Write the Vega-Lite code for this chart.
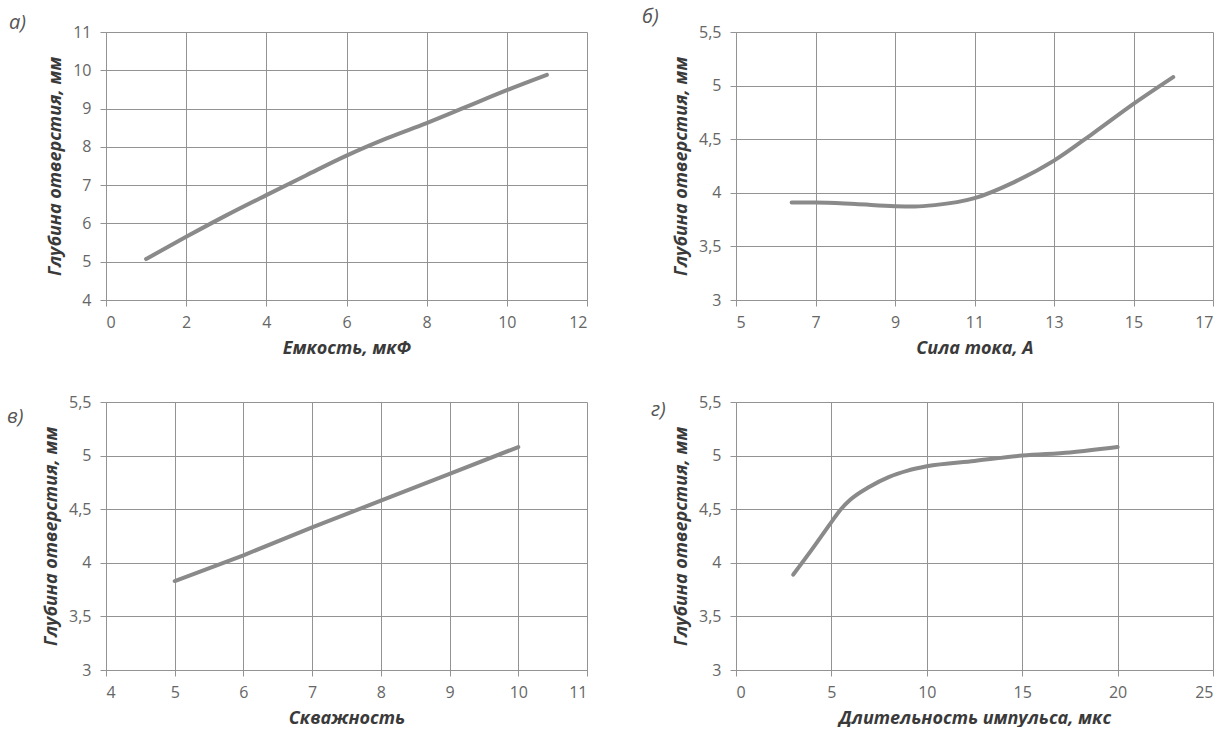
{
  "$schema": "https://vega.github.io/schema/vega-lite/v6.json",
  "background": "white",
  "padding": {"left": 7, "top": 7, "right": 5, "bottom": 0},
  "config": {
    "view": {"stroke": null},
    "font": "Open Sans",
    "axis": {
      "gridColor": "#939393", "gridOpacity": 1, "gridWidth": 1,
      "domainColor": "#939393", "tickColor": "#939393", "tickSize": 6,
      "labelFont": "Open Sans", "labelFontSize": 16, "labelColor": "#666666",
      "titleFont": "Open Sans", "titleFontSize": 18, "titleFontStyle": "italic", "titleFontWeight": "bold", "titleColor": "#3a3a3a"
    },
    "axisX": {"labelPadding": 8, "titlePadding": 9},
    "axisY": {"labelPadding": 9, "titlePadding": 8},
    "title": {"anchor": "start", "frame": "group", "fontSize": 20, "fontStyle": "italic", "fontWeight": "normal", "color": "#555555", "font": "Open Sans"}
  },
  "datasets": {
    "a": [{"x":1,"y":5.07},{"x":2,"y":5.65},{"x":3,"y":6.21},{"x":4,"y":6.74},{"x":5,"y":7.26},{"x":6,"y":7.77},{"x":7,"y":8.22},{"x":8,"y":8.62},{"x":9,"y":9.05},{"x":10,"y":9.48},{"x":11,"y":9.88}],
    "b": [{"x":6.4,"y":3.91},{"x":7,"y":3.91},{"x":8,"y":3.895},{"x":9,"y":3.875},{"x":9.5,"y":3.872},{"x":10,"y":3.885},{"x":11,"y":3.95},{"x":12,"y":4.1},{"x":13,"y":4.3},{"x":14,"y":4.56},{"x":15,"y":4.83},{"x":16,"y":5.08}],
    "c": [{"x":5,"y":3.83},{"x":6,"y":4.07},{"x":7,"y":4.33},{"x":8,"y":4.58},{"x":9,"y":4.83},{"x":10,"y":5.08}],
    "d": [{"x":3,"y":3.89},{"x":4,"y":4.13},{"x":5,"y":4.38},{"x":5.5,"y":4.5},{"x":6,"y":4.59},{"x":7,"y":4.71},{"x":8,"y":4.8},{"x":9,"y":4.86},{"x":10,"y":4.9},{"x":12.5,"y":4.95},{"x":15,"y":5.0},{"x":17.5,"y":5.03},{"x":20,"y":5.08}]
  },
  "columns": 2,
  "spacing": {"row": 102, "column": 149},
  "bounds": "flush",
  "concat": [
    {
      "width": 481, "height": 268,
      "title": {"text": "а)", "dx": -97, "offset": -9},
      "data": {"name": "a"},
      "mark": {"type": "line", "interpolate": "monotone", "color": "#8a8a8a", "strokeWidth": 4, "strokeCap": "round"},
      "encoding": {
        "x": {"field": "x", "type": "quantitative", "scale": {"domain": [0, 12], "nice": false}, "axis": {"values": [0,2,4,6,8,10,12], "title": "Емкость, мкФ"}},
        "y": {"field": "y", "type": "quantitative", "scale": {"domain": [4, 11], "nice": false, "zero": false}, "axis": {"values": [4,5,6,7,8,9,10,11], "title": "Глубина отверстия, мм"}}
      }
    },
    {
      "width": 477, "height": 268,
      "title": {"text": "б)", "dx": -94, "offset": -3},
      "data": {"name": "b"},
      "mark": {"type": "line", "interpolate": "monotone", "color": "#8a8a8a", "strokeWidth": 4, "strokeCap": "round"},
      "encoding": {
        "x": {"field": "x", "type": "quantitative", "scale": {"domain": [5, 17], "nice": false, "zero": false}, "axis": {"values": [5,7,9,11,13,15,17], "title": "Сила тока, А"}},
        "y": {"field": "y", "type": "quantitative", "scale": {"domain": [3, 5.5], "nice": false, "zero": false}, "axis": {"values": [3,3.5,4,4.5,5,5.5], "labelExpr": "replace(format(datum.value, '~g'), '.', ',')", "title": "Глубина отверстия, мм"}}
      }
    },
    {
      "width": 481, "height": 268,
      "title": {"text": "в)", "dx": -99, "offset": -33},
      "data": {"name": "c"},
      "mark": {"type": "line", "interpolate": "linear", "color": "#8a8a8a", "strokeWidth": 4, "strokeCap": "round"},
      "encoding": {
        "x": {"field": "x", "type": "quantitative", "scale": {"domain": [4, 11], "nice": false, "zero": false}, "axis": {"values": [4,5,6,7,8,9,10,11], "title": "Скважность"}},
        "y": {"field": "y", "type": "quantitative", "scale": {"domain": [3, 5.5], "nice": false, "zero": false}, "axis": {"values": [3,3.5,4,4.5,5,5.5], "labelExpr": "replace(format(datum.value, '~g'), '.', ',')", "title": "Глубина отверстия, мм"}}
      }
    },
    {
      "width": 477, "height": 268,
      "title": {"text": "г)", "dx": -85, "offset": -26},
      "data": {"name": "d"},
      "mark": {"type": "line", "interpolate": "monotone", "color": "#8a8a8a", "strokeWidth": 4, "strokeCap": "round"},
      "encoding": {
        "x": {"field": "x", "type": "quantitative", "scale": {"domain": [0, 25], "nice": false}, "axis": {"values": [0,5,10,15,20,25], "title": "Длительность импульса, мкс"}},
        "y": {"field": "y", "type": "quantitative", "scale": {"domain": [3, 5.5], "nice": false, "zero": false}, "axis": {"values": [3,3.5,4,4.5,5,5.5], "labelExpr": "replace(format(datum.value, '~g'), '.', ',')", "title": "Глубина отверстия, мм"}}
      }
    }
  ]
}
